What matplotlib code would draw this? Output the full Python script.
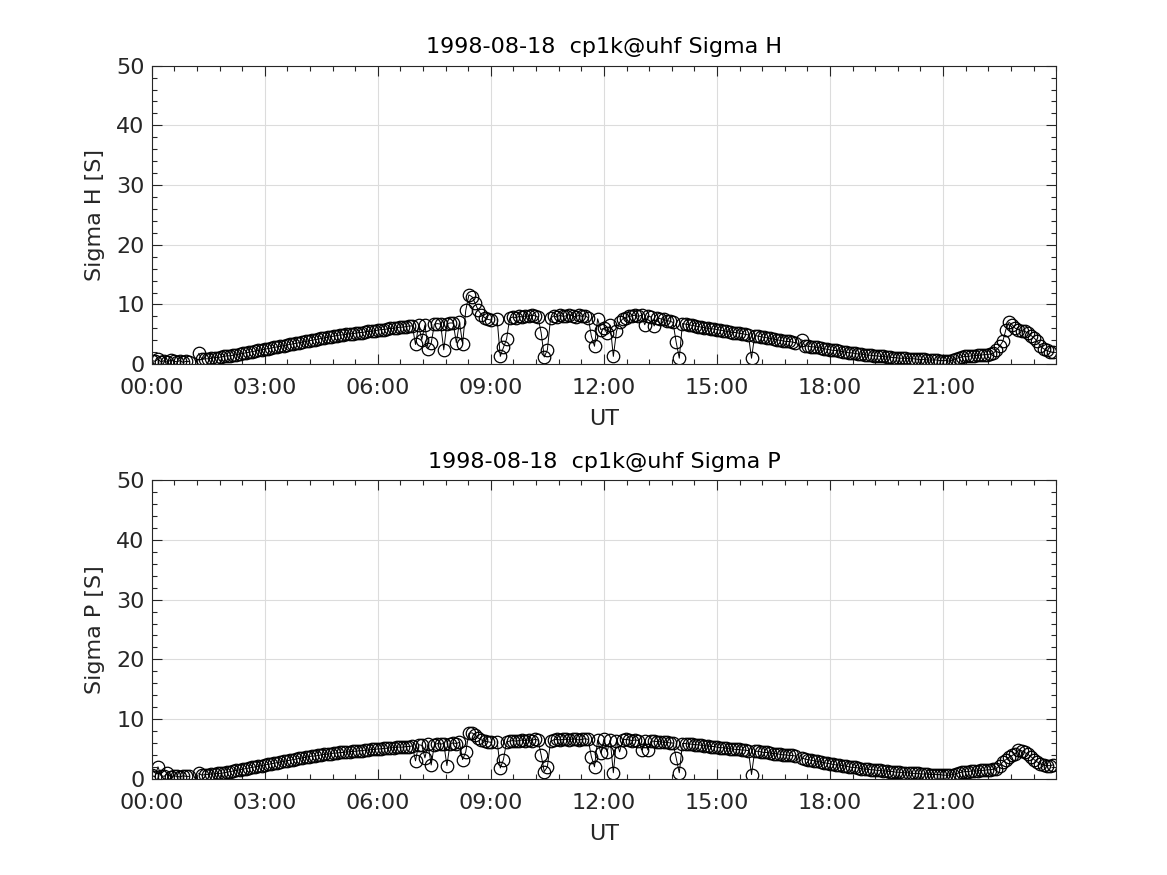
import numpy as np
import matplotlib.pyplot as plt
from matplotlib.ticker import MultipleLocator

nan = np.nan

# conductances at 5 minute steps from 00:00 UT (NaN = no data)
sigma_h = [
    0.6, 0.5, 0.8, 0.4, 0.6, 0.3, 0.7, 0.5, 0.4, 0.6, 0.3, 0.5,
    0.4, nan, nan, 1.8, 0.8, 0.9, 0.9, 1.0, 1.1, 1.1, 1.2, 1.3,
    1.4, 1.4, 1.5, 1.6, 1.7, 1.8, 1.9, 2.0, 2.1, 2.2, 2.3, 2.4,
    2.5, 2.6, 2.7, 2.8, 2.9, 3.0, 3.1, 3.2, 3.3, 3.4, 3.5, 3.6,
    3.7, 3.8, 3.9, 4.0, 4.1, 4.2, 4.3, 4.4, 4.5, 4.6, 4.7, 4.8,
    4.9, 4.9, 5.0, 5.1, 5.1, 5.2, 5.3, 5.3, 5.4, 5.5, 5.5, 5.6,
    5.7, 5.8, 5.8, 5.9, 6.0, 6.0, 6.1, 6.2, 6.2, 6.3, 6.4, 6.4,
    3.3, 6.5, 4.1, 6.6, 2.6, 3.5, 6.7, 6.8, 6.7, 2.4, 6.8, 6.9,
    6.9, 3.6, 7.0, 3.4, 9.0, 11.6, 11.3, 10.2, 9.0, 8.3, 7.8, 7.5,
    7.4, nan, 7.5, 1.3, 2.8, 4.2, 7.7, 7.9, 7.8, 8.0, 7.9, 8.1,
    8.0, 8.2, 8.1, 7.9, 5.3, 1.2, 2.4, 7.7, 8.1, 7.9, 8.2, 8.0,
    8.1, 8.3, 8.1, 7.9, 8.2, 8.0, 8.1, 7.8, 4.7, 3.0, 7.6, 5.8,
    6.0, 5.2, 6.5, 1.3, 5.5, 7.0, 7.6, 7.8, 8.0, 8.1, 8.2, 8.0,
    8.2, 6.6, 8.1, 7.9, 6.4, 7.8, 7.6, 7.5, 7.3, 7.2, 7.0, 3.7,
    1.0, 6.8, 6.7, 6.6, 6.5, 6.4, 6.3, 6.2, 6.1, 6.0, 5.9, 5.9,
    5.8, 5.7, 5.6, 5.5, 5.4, 5.3, 5.3, 5.2, 5.1, 5.0, 4.9, 1.0,
    4.8, 4.7, 4.6, 4.5, 4.4, 4.3, 4.2, 4.1, 4.0, 3.9, 3.8, 3.8,
    3.7, 3.6, nan, 4.1, 3.1, 3.0, 2.9, 2.9, 2.8, 2.7, 2.6, 2.5,
    2.4, 2.3, 2.3, 2.2, 2.1, 2.0, 1.9, 1.9, 1.8, 1.7, 1.7, 1.6,
    1.5, 1.5, 1.4, 1.4, 1.3, 1.3, 1.2, 1.2, 1.1, 1.1, 1.0, 1.0,
    1.0, 0.9, 0.9, 0.9, 0.8, 0.8, 0.8, 0.7, 0.7, 0.7, 0.7, 0.6,
    0.6, 0.6, 0.5, 0.7, 0.9, 1.1, 1.2, 1.3, 1.3, 1.4, 1.4, 1.5,
    1.5, 1.6, 1.6, 1.7, 1.8, 2.4, 3.0, 3.8, 5.8, 7.0, 6.6, 6.0,
    5.8, 5.6, 5.5, 5.2, 4.8, 4.4, 3.8, 3.0, 2.6, 2.3, 2.1, 2.0,
]

sigma_p = [
    0.6, 0.3, 2.0, 0.5, 0.4, 1.0, 0.3, 0.5, 0.4, 0.3, 0.5, 0.4,
    0.4, nan, nan, 0.9, 0.6, 0.7, 0.7, 0.8, 0.8, 0.9, 0.9, 1.0,
    1.1, 1.2, 1.3, 1.4, 1.5, 1.6, 1.7, 1.8, 1.9, 2.0, 2.1, 2.2,
    2.3, 2.4, 2.5, 2.6, 2.7, 2.8, 2.9, 3.0, 3.1, 3.2, 3.3, 3.4,
    3.5, 3.6, 3.7, 3.8, 3.8, 3.9, 4.0, 4.1, 4.1, 4.2, 4.3, 4.3,
    4.4, 4.4, 4.5, 4.5, 4.6, 4.6, 4.7, 4.7, 4.8, 4.8, 4.9, 4.9,
    5.0, 5.0, 5.1, 5.1, 5.2, 5.2, 5.3, 5.3, 5.3, 5.4, 5.4, 5.5,
    3.0, 5.7, 5.6, 3.5, 5.8, 2.3, 5.7, 5.9, 5.8, 5.9, 2.2, 5.9,
    6.0, 5.9, 6.1, 3.2, 4.5, 7.6, 7.7, 7.3, 6.8, 6.5, 6.3, 6.2,
    6.1, nan, 6.2, 1.8, 3.2, 6.2, 6.3, 6.4, 6.3, 6.4, 6.5, 6.4,
    6.5, 6.4, 6.6, 6.5, 4.0, 1.2, 2.0, 6.3, 6.5, 6.6, 6.5, 6.6,
    6.6, 6.5, 6.7, 6.6, 6.5, 6.6, 6.7, 6.6, 3.7, 2.0, 6.5, 4.3,
    6.6, 4.5, 6.5, 1.0, 6.4, 4.5, 6.5, 6.6, 6.5, 6.4, 6.5, 6.4,
    4.8, 6.4, 4.8, 6.3, 6.3, 6.2, 6.2, 6.1, 6.1, 6.0, 6.0, 3.5,
    1.0, 5.9, 5.9, 5.8, 5.8, 5.7, 5.7, 5.6, 5.5, 5.5, 5.4, 5.4,
    5.3, 5.2, 5.2, 5.1, 5.0, 5.0, 4.9, 4.9, 4.8, 4.8, 4.7, 0.7,
    4.6, 4.6, 4.5, 4.4, 4.4, 4.3, 4.2, 4.2, 4.1, 4.0, 4.0, 3.9,
    3.9, 3.8, nan, 3.5, 3.3, 3.2, 3.1, 3.0, 2.9, 2.8, 2.7, 2.6,
    2.5, 2.4, 2.3, 2.3, 2.2, 2.1, 2.0, 1.9, 1.9, 1.8, 1.7, 1.6,
    1.6, 1.5, 1.5, 1.4, 1.4, 1.3, 1.3, 1.2, 1.2, 1.1, 1.1, 1.0,
    1.0, 1.0, 0.9, 0.9, 0.9, 0.8, 0.8, 0.8, 0.7, 0.7, 0.7, 0.7,
    0.6, 0.6, 0.6, 0.7, 0.8, 1.0, 1.1, 1.2, 1.2, 1.3, 1.3, 1.3,
    1.4, 1.4, 1.5, 1.5, 1.6, 1.7, 2.2, 2.8, 3.2, 3.6, 3.9, 4.2,
    4.8, 4.7, 4.4, 4.1, 3.7, 3.2, 2.8, 2.5, 2.3, 2.2, 2.2, 2.3,
]

# sample times in hours UT (5 minute cadence)
ut_hours = np.arange(len(sigma_h)) * 5 / 60.0

tick_hours = [0, 3, 6, 9, 12, 15, 18, 21]
tick_labels = ["00:00", "03:00", "06:00", "09:00", "12:00", "15:00", "18:00", "21:00"]

titles = ["1998-08-18  cp1k@uhf Sigma H", "1998-08-18  cp1k@uhf Sigma P"]
ylabels = ["Sigma H [S]", "Sigma P [S]"]

dark = "#262626"
plt.rcParams["font.family"] = "DejaVu Sans"

fig = plt.figure(figsize=(11.67, 8.75), dpi=100)
positions = [[0.13, 0.5838, 0.775, 0.3412], [0.13, 0.11, 0.775, 0.3412]]

for pos, values, title, ylabel in zip(positions, [sigma_h, sigma_p], titles, ylabels):
    ax = fig.add_axes(pos)
    ax.plot(ut_hours, values, "-o", color="black", lw=0.7, ms=9,
            mfc="none", mec="black", mew=0.9)
    ax.set_xlim(0, 24)
    ax.set_ylim(0, 50)
    ax.set_xticks(tick_hours)
    ax.set_xticklabels(tick_labels)
    ax.set_yticks([0, 10, 20, 30, 40, 50])
    ax.xaxis.set_minor_locator(MultipleLocator(0.6))
    ax.yaxis.set_minor_locator(MultipleLocator(2))
    ax.tick_params(which="both", direction="in", top=True, right=True,
                   colors=dark, labelsize=16, width=0.8)
    ax.tick_params(which="major", length=7)
    ax.tick_params(which="minor", length=3.5)
    ax.tick_params(axis="x", pad=10)
    ax.tick_params(axis="y", pad=5)
    ax.grid(True, which="major", color="#dcdcdc", lw=0.8)
    ax.set_axisbelow(True)
    for s in ax.spines.values():
        s.set_color(dark)
        s.set_linewidth(0.8)
    ax.set_title(title, fontsize=16, color="black", pad=9)
    ax.set_xlabel("UT", fontsize=16, color=dark, labelpad=8)
    ax.set_ylabel(ylabel, fontsize=16, color=dark, labelpad=8)

fig.savefig("out.png", dpi=100, facecolor="white")
